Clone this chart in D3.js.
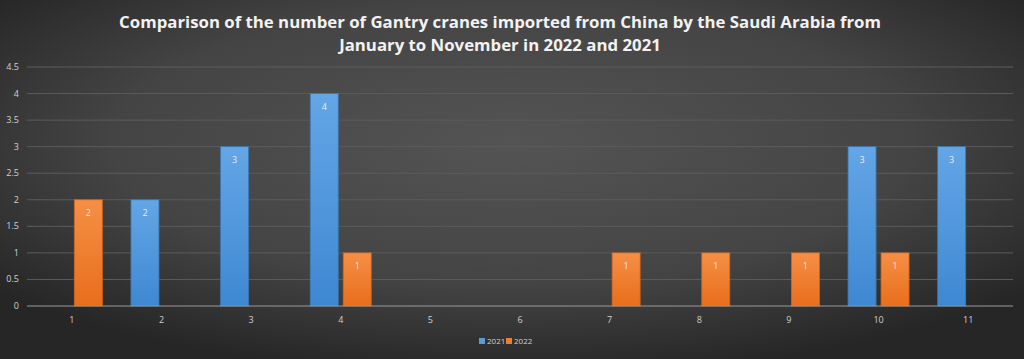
<!DOCTYPE html>
<html>
<head>
<meta charset="utf-8">
<script src="https://cdn.jsdelivr.net/npm/d3@7"></script>
<style>
  html, body { margin: 0; padding: 0; background: #333; }
  svg { display: block; }
</style>
</head>
<body>
<div id="chart"></div>
<script>
var months = ['1','2','3','4','5','6','7','8','9','10','11'];
var series = ['2021','2022'];
var values2021 = [0,2,3,4,0,0,0,0,0,3,3];
var values2022 = [2,0,0,1,0,0,1,1,1,1,0];
var yTicks = [0,0.5,1,1.5,2,2.5,3,3.5,4,4.5];
var titleLines = ['Comparison of the number of Gantry cranes imported from China by the Saudi Arabia from',
                  'January to November in 2022 and 2021'];

var width = 1024, height = 359;
var margin = {top: 67, right: 11, bottom: 53, left: 27};

var svg = d3.select('#chart').append('svg')
  .attr('width', width)
  .attr('height', height);

var defs = svg.append('defs');
var bg = defs.append('radialGradient').attr('id', 'bg')
  .attr('cx', '50%').attr('cy', '40%').attr('r', '65%');
bg.append('stop').attr('offset', '0%').attr('stop-color', '#545454');
bg.append('stop').attr('offset', '60%').attr('stop-color', '#444');
bg.append('stop').attr('offset', '100%').attr('stop-color', '#262626');

var gBlue = defs.append('linearGradient').attr('id', 'gBlue').attr('x1', 0).attr('y1', 0).attr('x2', 0).attr('y2', 1);
gBlue.append('stop').attr('offset', '0%').attr('stop-color', '#64a6e6');
gBlue.append('stop').attr('offset', '100%').attr('stop-color', '#3e88d2');
var gOrange = defs.append('linearGradient').attr('id', 'gOrange').attr('x1', 0).attr('y1', 0).attr('x2', 0).attr('y2', 1);
gOrange.append('stop').attr('offset', '0%').attr('stop-color', '#f68f45');
gOrange.append('stop').attr('offset', '100%').attr('stop-color', '#e86e1c');

svg.append('rect').attr('width', width).attr('height', height).attr('fill', 'url(#bg)');

//title
svg.append('g').selectAll('text')
  .data(titleLines)
  .enter().append('text')
  .attr('x', 500)
  .attr('y', function(d, i){ return 28 + i * 23; })
  .attr('text-anchor', 'middle')
  .attr('fill', '#f2f2f2')
  .attr('font-family', 'Open Sans, sans-serif')
  .attr('font-weight', 'bold')
  .attr('font-size', '16.8px')
  .text(function(d){ return d; });

//scales
var x = d3.scaleBand()
  .domain(months)
  .range([margin.left, width - margin.right]);
var y = d3.scaleLinear()
  .domain([0, 4.5])
  .range([height - margin.bottom, margin.top]);
var barW = 28, innerGap = 5;
var xs = d3.scaleOrdinal().domain(series)
  .range([-innerGap / 2 - barW, innerGap / 2]);

//grid
svg.append('g').selectAll('line')
  .data(yTicks.slice(1))
  .enter().append('line')
  .attr('x1', margin.left).attr('x2', width - margin.right)
  .attr('y1', function(d){ return y(d); }).attr('y2', function(d){ return y(d); })
  .attr('stroke', '#5c5c5c').attr('stroke-width', 1);

//y labels
svg.append('g').selectAll('text')
  .data(yTicks)
  .enter().append('text')
  .attr('x', 19)
  .attr('y', function(d){ return y(d) + 3; })
  .attr('text-anchor', 'end')
  .attr('fill', '#d0d0d0')
  .attr('font-family', 'Open Sans, sans-serif')
  .attr('font-size', '9px')
  .text(function(d){ return d; });

//bars
var rows = [];
months.forEach(function(m, i){
  rows.push({m: m, s: '2021', v: values2021[i]});
  rows.push({m: m, s: '2022', v: values2022[i]});
});
var barData = rows.filter(function(d){ return d.v > 0; });

svg.append('g').selectAll('rect')
  .data(barData)
  .enter().append('rect')
  .attr('x', function(d){ return x(d.m) + x.bandwidth() / 2 + xs(d.s); })
  .attr('y', function(d){ return y(d.v); })
  .attr('width', barW)
  .attr('height', function(d){ return y(0) - y(d.v); })
  .attr('fill', function(d){ return d.s === '2021' ? 'url(#gBlue)' : 'url(#gOrange)'; })
  .attr('stroke', function(d){ return d.s === '2021' ? '#3a78b4' : '#d0651c'; })
  .attr('stroke-width', 0.8);

svg.append('g').selectAll('text')
  .data(barData)
  .enter().append('text')
  .attr('x', function(d){ return x(d.m) + x.bandwidth() / 2 + xs(d.s) + barW / 2; })
  .attr('y', function(d){ return y(d.v) + 16; })
  .attr('text-anchor', 'middle')
  .attr('fill', '#eaeaea')
  .attr('font-family', 'Open Sans, sans-serif')
  .attr('font-size', '9px')
  .text(function(d){ return d.v; });

//x axis line
svg.append('line')
  .attr('x1', margin.left).attr('x2', width - margin.right)
  .attr('y1', y(0)).attr('y2', y(0))
  .attr('stroke', '#9a9a9a').attr('stroke-width', 1);

svg.append('g').selectAll('text')
  .data(months)
  .enter().append('text')
  .attr('x', function(d){ return x(d) + x.bandwidth() / 2; })
  .attr('y', y(0) + 17)
  .attr('text-anchor', 'middle')
  .attr('fill', '#d0d0d0')
  .attr('font-family', 'Open Sans, sans-serif')
  .attr('font-size', '9px')
  .text(function(d){ return d; });

//legend
var legend = svg.append('g').attr('transform', 'translate(479,344)');
var li = legend.selectAll('g').data(series).enter().append('g')
  .attr('transform', function(d, i){ return 'translate(' + (i * 27) + ',0)'; });
li.append('rect').attr('x', 0).attr('y', -6).attr('width', 6).attr('height', 6)
  .attr('fill', function(d){ return d === '2021' ? '#5b9bd5' : '#ed7d31'; });
li.append('text').attr('x', 8).attr('y', 0)
  .attr('fill', '#d0d0d0')
  .attr('font-family', 'Open Sans, sans-serif')
  .attr('font-size', '8px')
  .text(function(d){ return d; });
</script>
</body>
</html>
